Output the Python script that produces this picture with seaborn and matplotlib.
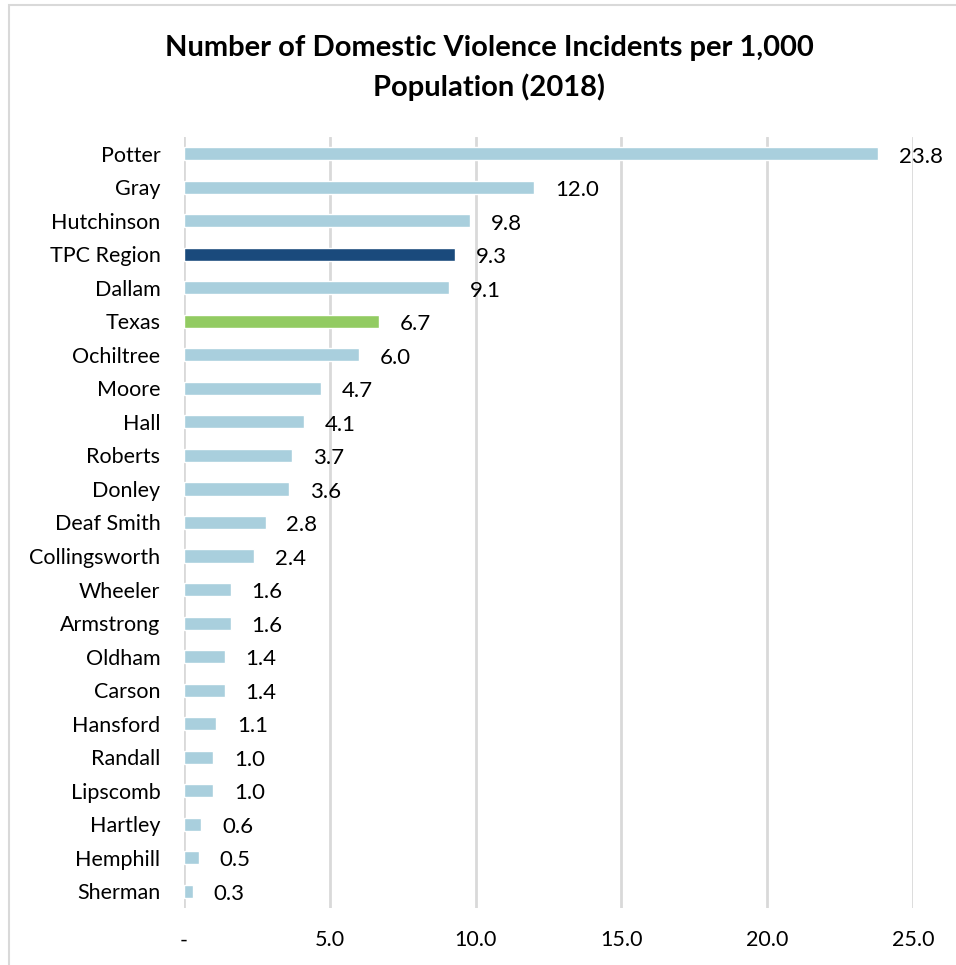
import matplotlib
matplotlib.use("Agg")
import matplotlib.pyplot as plt
import matplotlib.patches as mpatches
import seaborn as sns
import pandas as pd

# Domestic violence incidents per 1,000 population, 2018
areas = ["Potter", "Gray", "Hutchinson", "TPC Region", "Dallam", "Texas",
         "Ochiltree", "Moore", "Hall", "Roberts", "Donley", "Deaf Smith",
         "Collingsworth", "Wheeler", "Armstrong", "Oldham", "Carson",
         "Hansford", "Randall", "Lipscomb", "Hartley", "Hemphill", "Sherman"]
rates = [23.8, 12.0, 9.8, 9.3, 9.1, 6.7, 6.0, 4.7, 4.1, 3.7, 3.6, 2.8,
         2.4, 1.6, 1.6, 1.4, 1.4, 1.1, 1.0, 1.0, 0.6, 0.5, 0.3]
x_ticks = [0, 5, 10, 15, 20, 25]
x_tick_labels = ["-", "5.0", "10.0", "15.0", "20.0", "25.0"]

county_color = "#A9CFDD"
highlight_colors = {"TPC Region": "#1A4A7C", "Texas": "#92CB62"}

df = pd.DataFrame({"area": areas, "rate": rates})
palette = {a: highlight_colors.get(a, county_color) for a in areas}

sns.set_theme(style="white")
plt.rcParams["font.family"] = ["Lato", "DejaVu Sans"]
plt.rcParams["text.color"] = "black"

fig = plt.figure(figsize=(9.56, 9.65), dpi=100)
ax = fig.add_axes([184 / 956, 1 - 908 / 965, (913 - 184) / 956, (908 - 137) / 965])

sns.barplot(data=df, y="area", x="rate", hue="area", palette=palette,
            order=areas, orient="h", width=0.39, legend=False,
            saturation=1, ax=ax)

ax.set_xlim(0, 25)
ax.set_xticks(x_ticks)
ax.set_xticklabels(x_tick_labels, fontsize=15.5)
ax.set_xlabel("")
ax.set_ylabel("")
ax.tick_params(axis="y", labelsize=15.5, length=0, pad=17, labelcolor="black")
ax.tick_params(axis="x", length=0, pad=16, labelcolor="black")

for s in ax.spines.values():
    s.set_visible(False)
ax.set_axisbelow(True)
ax.xaxis.grid(True, color="#D9D9D9", linewidth=2)

# Value labels just right of each bar end
for i, v in enumerate(rates):
    ax.annotate(f"{v:.1f}", xy=(v, i), xytext=(15, -2),
                textcoords="offset points", ha="left", va="center",
                fontsize=16, color="black")

fig.text(0.512, 1 - 48 / 965, "Number of Domestic Violence Incidents per 1,000",
         ha="center", va="center", fontsize=21, fontweight="bold")
fig.text(0.512, 1 - 87 / 965, "Population (2018)",
         ha="center", va="center", fontsize=21, fontweight="bold")

# Light frame around the chart area
fig.patches.append(mpatches.Rectangle((9 / 956, -0.05), 1.2, 1 - 5 / 965 + 0.05,
                                      transform=fig.transFigure, fill=False,
                                      edgecolor="#D9D9D9", linewidth=1.5))

fig.savefig("out.png", dpi=100, facecolor="white")
